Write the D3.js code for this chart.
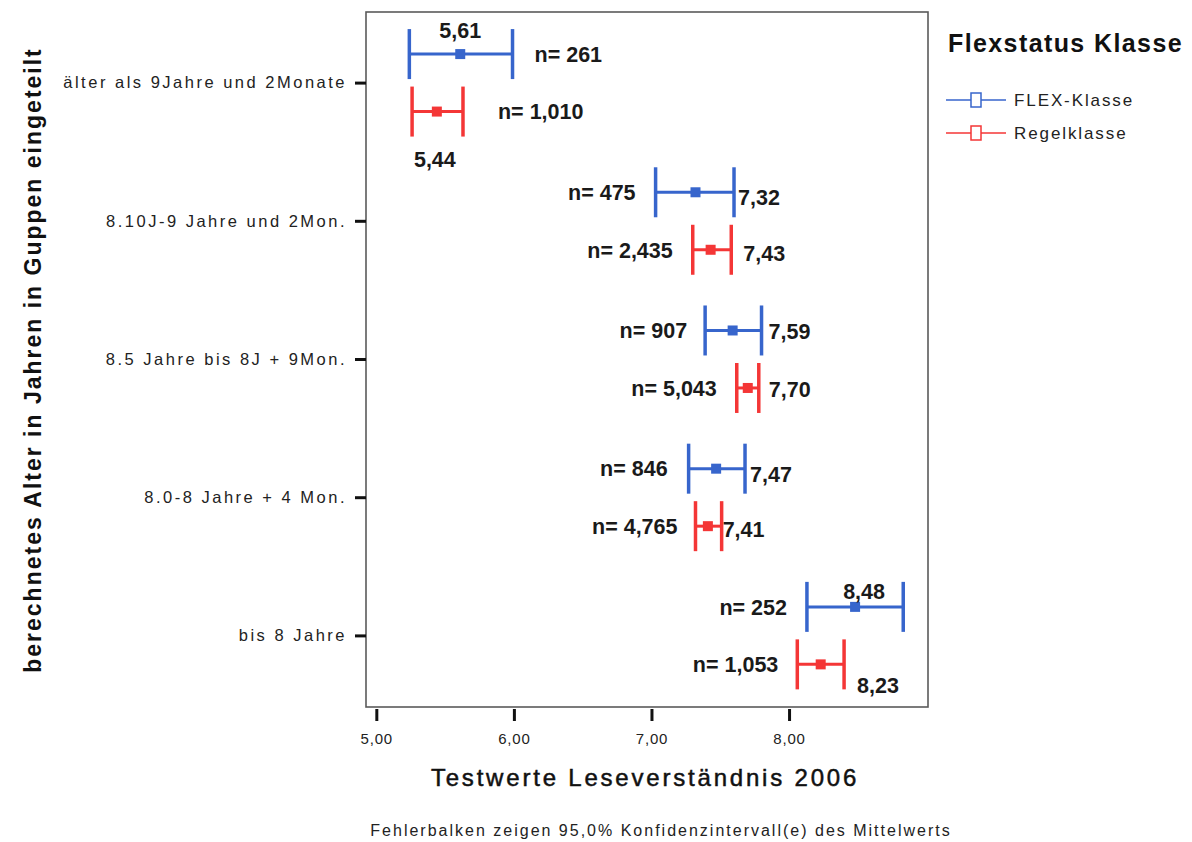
<!DOCTYPE html>
<html><head><meta charset="utf-8">
<script src="https://cdn.jsdelivr.net/npm/d3@7"></script>
<style>
body{margin:0;background:#fff}
svg{display:block}
svg text{font-family:"Liberation Sans",Arial,sans-serif}
</style>
</head><body>
<svg id="chart" width="1192" height="842"></svg>
<script>
// Age groups (y axis) and the two class types
const categories = ["älter als 9Jahre und 2Monate","8.10J-9 Jahre und 2Mon.","8.5 Jahre bis 8J + 9Mon.","8.0-8 Jahre + 4 Mon.","bis 8 Jahre"];
const seriesNames = ["FLEX-Klasse","Regelklasse"];

// Means with 95% confidence interval bounds and group sizes
const flexMean  = [5.61, 7.32, 7.59, 7.47, 8.48];
const flexLow   = [5.24, 7.03, 7.39, 7.27, 8.13];
const flexHigh  = [5.99, 7.60, 7.80, 7.68, 8.83];
const flexN     = ["261", "475", "907", "846", "252"];

const regelMean = [5.44, 7.43, 7.70, 7.41, 8.23];
const regelLow  = [5.26, 7.30, 7.62, 7.32, 8.06];
const regelHigh = [5.63, 7.58, 7.78, 7.51, 8.40];
const regelN    = ["1,010", "2,435", "5,043", "4,765", "1,053"];

const xTicks = [5, 6, 7, 8];

const colors = {"FLEX-Klasse": "#3765cc", "Regelklasse": "#f43636"};

// Where each annotation sits relative to its error bar
const nPlacement = {
  "FLEX-Klasse": [{side:"right",gap:22},{side:"left",gap:20},{side:"left",gap:18},{side:"left",gap:21},{side:"left",gap:20}],
  "Regelklasse": [{side:"right",gap:35},{side:"left",gap:20},{side:"left",gap:20},{side:"left",gap:18},{side:"left",gap:19}]
};
const meanPlacement = {
  "FLEX-Klasse": [{at:"mean",dx:0,dy:-24,anchor:"middle"},{at:"high",dx:4,dy:5,anchor:"start"},{at:"high",dx:7,dy:1,anchor:"start"},{at:"high",dx:5,dy:6,anchor:"start"},{at:"mean",dx:9,dy:-16,anchor:"middle"}],
  "Regelklasse": [{at:"mean",dx:-2,dy:48,anchor:"middle"},{at:"high",dx:12,dy:3,anchor:"start"},{at:"high",dx:10,dy:1,anchor:"start"},{at:"high",dx:1,dy:3,anchor:"start"},{at:"high",dx:13,dy:21,anchor:"start"}]
};

const rows = [];
categories.forEach((c, i) => {
  rows.push({cat:c, series:"FLEX-Klasse", mean:flexMean[i], low:flexLow[i], high:flexHigh[i], n:flexN[i], np:nPlacement["FLEX-Klasse"][i], mp:meanPlacement["FLEX-Klasse"][i]});
  rows.push({cat:c, series:"Regelklasse", mean:regelMean[i], low:regelLow[i], high:regelHigh[i], n:regelN[i], np:nPlacement["Regelklasse"][i], mp:meanPlacement["Regelklasse"][i]});
});

const frame = {left:366, right:928, top:12, bottom:707};
const svg = d3.select("#chart");

const x = d3.scaleLinear().domain([4.925, 9.01]).range([frame.left, frame.right]);
const y = d3.scaleBand().domain(categories).range([14, 705]);
const inner = d3.scalePoint().domain(seriesNames).range([-0.21 * y.bandwidth(), 0.206 * y.bandwidth()]);
const yc = d => y(d.cat) + y.bandwidth() / 2 + inner(d.series);
const fmt = v => d3.format(".2f")(v).replace(".", ",");

// plot frame
svg.append("rect")
  .attr("x", frame.left).attr("y", frame.top)
  .attr("width", frame.right - frame.left).attr("height", frame.bottom - frame.top)
  .attr("fill", "none").attr("stroke", "#5a5a5a").attr("stroke-width", 1.6);

// x axis
const xAxis = svg.append("g").attr("transform", `translate(0,${frame.bottom + 2})`)
  .call(d3.axisBottom(x).tickValues(xTicks).tickSize(12).tickPadding(12).tickFormat(fmt));
xAxis.select(".domain").remove();
xAxis.selectAll(".tick line").attr("stroke", "#111").attr("stroke-width", 3);
xAxis.selectAll(".tick text").attr("font-size", null).style("font-size", "15px").style("letter-spacing", "0.8px")
  .style("font-family", "'Liberation Sans',Arial,sans-serif").attr("fill", "#222");

// y axis
const yAxis = svg.append("g").attr("transform", `translate(${frame.left},0)`)
  .call(d3.axisLeft(y).tickSize(11).tickPadding(8));
yAxis.select(".domain").remove();
yAxis.selectAll(".tick line").attr("stroke", "#111").attr("stroke-width", 3);
yAxis.selectAll(".tick text").style("font-size", "16.5px").style("letter-spacing", "2.5px")
  .style("font-family", "'Liberation Sans',Arial,sans-serif").attr("fill", "#222");

// error bars
const bars = svg.append("g").selectAll("g").data(rows).join("g")
  .attr("stroke", d => colors[d.series]).attr("fill", d => colors[d.series]);
bars.append("line")
  .attr("x1", d => x(d.low)).attr("x2", d => x(d.high))
  .attr("y1", yc).attr("y2", yc).attr("stroke-width", 3);
bars.append("line")
  .attr("x1", d => x(d.low)).attr("x2", d => x(d.low))
  .attr("y1", d => yc(d) - 25).attr("y2", d => yc(d) + 25).attr("stroke-width", 3.5);
bars.append("line")
  .attr("x1", d => x(d.high)).attr("x2", d => x(d.high))
  .attr("y1", d => yc(d) - 25).attr("y2", d => yc(d) + 25).attr("stroke-width", 3.5);
bars.append("rect")
  .attr("x", d => x(d.mean) - 5).attr("y", d => yc(d) - 5)
  .attr("width", 10).attr("height", 10).attr("stroke", "none");

// n labels
svg.append("g").selectAll("text").data(rows).join("text")
  .attr("x", d => d.np.side === "right" ? x(d.high) + d.np.gap : x(d.low) - d.np.gap)
  .attr("y", yc).attr("dy", "0.36em")
  .attr("text-anchor", d => d.np.side === "right" ? "start" : "end")
  .style("font-size", "21.5px").style("font-weight", "bold")
  .attr("fill", "#1a1a1a")
  .text(d => "n= " + d.n);

// mean labels
svg.append("g").selectAll("text").data(rows).join("text")
  .attr("x", d => (d.mp.at === "mean" ? x(d.mean) : x(d.high)) + d.mp.dx)
  .attr("y", d => yc(d) + d.mp.dy).attr("dy", "0.36em")
  .attr("text-anchor", d => d.mp.anchor)
  .style("font-size", "21.5px").style("font-weight", "bold")
  .attr("fill", "#1a1a1a")
  .text(d => fmt(d.mean));

// axis titles
svg.append("text")
  .attr("x", 645).attr("y", 777).attr("dy", "0.36em").attr("text-anchor", "middle")
  .style("font-size", "24px").style("letter-spacing", "2.8px")
  .attr("fill", "#111").attr("stroke", "#111").attr("stroke-width", 0.5)
  .text("Testwerte Leseverständnis 2006");

svg.append("text")
  .attr("transform", "translate(33,360) rotate(-90)").attr("dy", "0.36em").attr("text-anchor", "middle")
  .style("font-size", "23px").style("font-weight", "bold").style("letter-spacing", "2px")
  .attr("fill", "#111").text("berechnetes Alter in Jahren in Guppen eingeteilt");

// footnote
svg.append("text")
  .attr("x", 661).attr("y", 830).attr("dy", "0.36em").attr("text-anchor", "middle")
  .style("font-size", "16px").style("letter-spacing", "2px")
  .attr("fill", "#222").text("Fehlerbalken zeigen 95,0% Konfidenzintervall(e) des Mittelwerts");

// legend
const legend = svg.append("g");
legend.append("text")
  .attr("x", 948).attr("y", 43).attr("dy", "0.36em")
  .style("font-size", "25px").style("font-weight", "bold").style("letter-spacing", "1.4px")
  .attr("fill", "#111").text("Flexstatus Klasse");
const items = legend.selectAll("g.item").data(seriesNames).join("g")
  .attr("class", "item").attr("transform", (d, i) => `translate(0,${100 + i * 33})`);
items.append("line").attr("x1", 946).attr("x2", 1006).attr("y1", 0).attr("y2", 0)
  .attr("stroke", d => colors[d]).attr("stroke-width", 1.5);
items.append("rect").attr("x", 971).attr("y", -7).attr("width", 10).attr("height", 14)
  .attr("fill", "#fff").attr("stroke", d => colors[d]).attr("stroke-width", 1.5);
items.append("text")
  .attr("x", 1014).attr("y", 0).attr("dy", "0.36em")
  .style("font-size", "17px").style("letter-spacing", "1.9px")
  .attr("fill", "#222").text(d => d);
</script>
</body></html>
